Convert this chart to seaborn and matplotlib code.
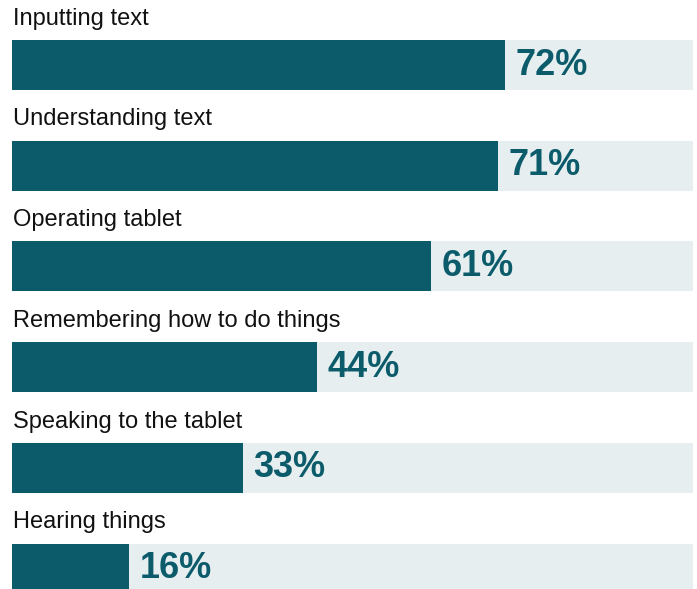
import matplotlib
matplotlib.use("Agg")
import matplotlib.pyplot as plt
import seaborn as sns
import pandas as pd

# data
tasks = ["Inputting text", "Understanding text", "Operating tablet",
         "Remembering how to do things", "Speaking to the tablet", "Hearing things"]
shares = [72, 71, 61, 44, 33, 16]
full = [100] * len(tasks)

BAR = "#0c5b6b"
TRACK = "#e6eef0"
STUB = -1.35   # bars start a little left of zero in the original

df = pd.DataFrame({"task": tasks, "share": shares, "full": full})
df["share_w"] = df["share"] - STUB
df["full_w"] = df["full"] - STUB

sns.set_style("white")
plt.rcParams["font.family"] = ["Liberation Sans", "DejaVu Sans"]

fig = plt.figure(figsize=(6.97, 5.89), dpi=100)
ax = fig.add_axes([12 / 697, 0, 681 / 697, 1])

# background track, then the value bar on top
sns.barplot(data=df, x="full_w", y="task", orient="h", color=TRACK,
            width=0.497, saturation=1, linewidth=0, left=STUB, ax=ax)
sns.barplot(data=df, x="share_w", y="task", orient="h", color=BAR,
            width=0.497, saturation=1, linewidth=0, left=STUB, ax=ax)

for i, (name, v) in enumerate(zip(tasks, shares)):
    ax.text(STUB + 0.1, i - 0.40, name, ha="left", va="baseline",
            fontsize=17, color="#111111")
    ax.text(v + 1.6, i + 0.095, f"{v}%", ha="left", va="baseline",
            fontsize=26, fontweight="bold", color=BAR)

ax.set_xlim(STUB, 100)
ax.set_ylim(5.203, -0.645)
ax.set_xlabel("")
ax.set_ylabel("")
ax.set_xticks([])
ax.set_yticks([])
sns.despine(ax=ax, left=True, bottom=True)

fig.savefig("out.png", dpi=100)
